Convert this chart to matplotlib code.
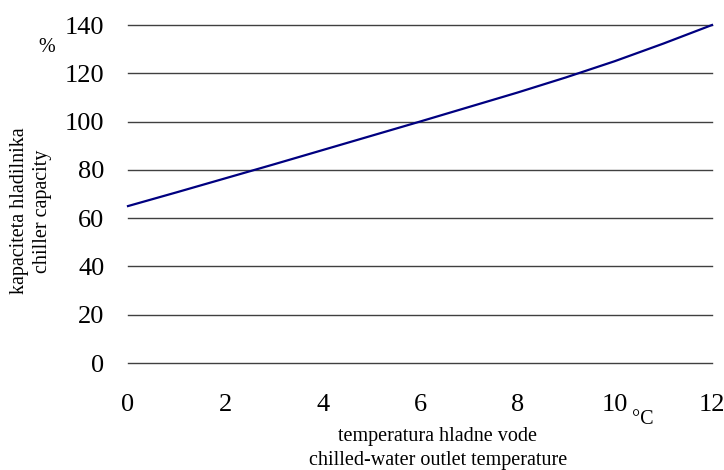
import matplotlib
matplotlib.use("Agg")
import matplotlib.pyplot as plt

temps = [0, 1, 2, 3, 4, 5, 6, 7, 8, 9, 10, 11, 12]
capacity = [65, 70.7, 76.5, 82.3, 88.2, 94.1, 100, 106.0, 112.0, 118.3, 125.0, 132.3, 140]
x_ticks = [0, 2, 4, 6, 8, 10, 12]
y_ticks = [0, 20, 40, 60, 80, 100, 120, 140]

plt.rcParams['font.family'] = ['Liberation Serif', 'DejaVu Serif']

fig = plt.figure(figsize=(7.24, 4.70), dpi=100)
ax = fig.add_axes([128/724, 1-363/470, (712-128)/724, (363-25)/470])
ax.set_xlim(0, 12)
ax.set_ylim(0, 140)
for y in y_ticks:
    ax.axhline(y, color='#404040', lw=1.0, zorder=1, clip_on=False)
ax.plot(temps, capacity, color='#000080', lw=1.6, zorder=3, clip_on=False)
ax.set_xticks(x_ticks)
ax.set_yticks(y_ticks)
ax.tick_params(axis='both', length=0, labelsize=19)
ax.tick_params(axis='x', pad=22)
ax.tick_params(axis='y', pad=17)
for s in ax.spines.values():
    s.set_visible(False)

fs = 14.5
fig.text(20/724, 1-211/470, 'kapaciteta hladilnika', rotation=90, ha='center', va='center', fontsize=fs)
fig.text(43/724, 1-211/470, 'chiller capacity', rotation=90, ha='center', va='center', fontsize=fs)
fig.text(47/724, 1-47/470, '%', ha='center', va='center', fontsize=fs)
fig.text(438/724, 1-437/470, 'temperatura hladne vode', ha='center', va='center', fontsize=fs)
fig.text(438/724, 1-460/470, 'chilled-water outlet temperature', ha='center', va='center', fontsize=fs)
fig.text(643/724, 1-419/470, '°C', ha='center', va='center', fontsize=fs)

fig.savefig('out.png', dpi=100)
